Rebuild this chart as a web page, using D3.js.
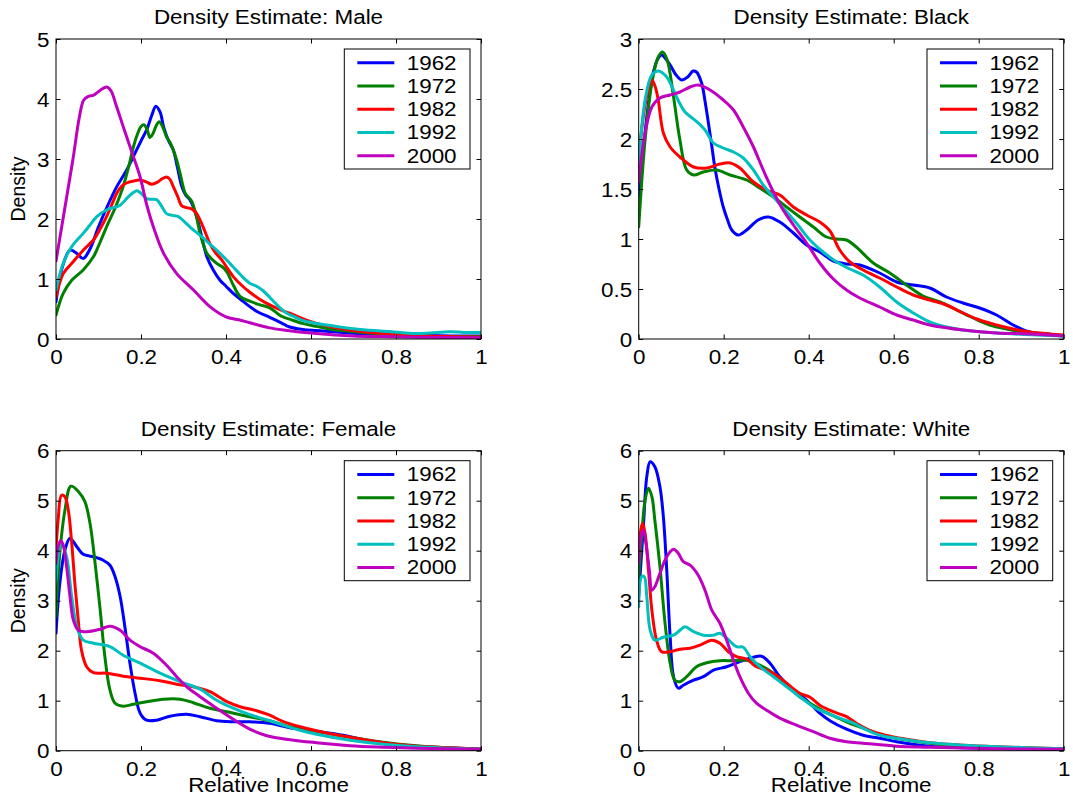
<!DOCTYPE html>
<html>
<head>
<meta charset="utf-8">
<script src="https://cdn.jsdelivr.net/npm/d3@7"></script>
<style>
  body { margin: 0; background: #fff; }
  text { font-family: "Liberation Sans", Arial, Helvetica, sans-serif; fill: #000; }
</style>
</head>
<body>
<svg id="chart"></svg>
<script>
// years + line colours (matlab default order)
const years = ["1962", "1972", "1982", "1992", "2000"];
const colors = ["#0000ff", "#008000", "#ff0000", "#00bfbf", "#bf00bf"];
const xTicks = [0, 0.2, 0.4, 0.6, 0.8, 1];

// Male  -- [relative income, density]
const male1962 = [[0,0.62],[0.015,1.2],[0.033,1.48],[0.05,1.42],[0.064,1.34],[0.08,1.5],[0.10,1.87],[0.12,2.2],[0.143,2.54],[0.165,2.8],[0.182,3.04],[0.2,3.3],[0.213,3.48],[0.225,3.72],[0.235,3.88],[0.245,3.78],[0.253,3.54],[0.265,3.3],[0.276,3.15],[0.286,2.85],[0.296,2.54],[0.305,2.4],[0.315,2.32],[0.331,2.04],[0.343,1.7],[0.355,1.37],[0.37,1.15],[0.386,0.98],[0.40,0.88],[0.417,0.76],[0.436,0.65],[0.456,0.54],[0.475,0.45],[0.503,0.36],[0.53,0.27],[0.55,0.2],[0.58,0.16],[0.613,0.14],[0.65,0.12],[0.69,0.1],[0.77,0.07],[0.85,0.06],[0.93,0.05],[1,0.05]];
const male1972 = [[0,0.4],[0.017,0.76],[0.037,0.98],[0.064,1.15],[0.088,1.37],[0.10,1.55],[0.119,1.87],[0.14,2.2],[0.158,2.54],[0.172,2.9],[0.182,3.2],[0.192,3.42],[0.2,3.54],[0.207,3.57],[0.214,3.5],[0.221,3.36],[0.228,3.42],[0.236,3.56],[0.243,3.62],[0.252,3.52],[0.26,3.37],[0.268,3.28],[0.276,3.15],[0.284,2.98],[0.292,2.76],[0.304,2.43],[0.312,2.36],[0.319,2.3],[0.33,2.05],[0.339,1.76],[0.355,1.43],[0.378,1.26],[0.392,1.2],[0.402,1.12],[0.417,0.9],[0.433,0.71],[0.456,0.63],[0.48,0.57],[0.503,0.52],[0.53,0.38],[0.55,0.33],[0.58,0.26],[0.613,0.21],[0.65,0.16],[0.69,0.13],[0.77,0.08],[0.85,0.05],[1,0.04]];
const male1982 = [[0,0.7],[0.017,1.09],[0.037,1.26],[0.064,1.48],[0.088,1.65],[0.105,1.85],[0.119,2.04],[0.132,2.25],[0.143,2.43],[0.155,2.55],[0.166,2.6],[0.18,2.63],[0.198,2.65],[0.212,2.62],[0.225,2.58],[0.24,2.62],[0.25,2.67],[0.26,2.7],[0.268,2.66],[0.276,2.54],[0.286,2.38],[0.296,2.22],[0.307,2.19],[0.319,2.17],[0.33,2.1],[0.339,1.98],[0.35,1.8],[0.362,1.59],[0.375,1.44],[0.39,1.32],[0.403,1.18],[0.417,1.04],[0.436,0.9],[0.456,0.78],[0.48,0.66],[0.503,0.57],[0.53,0.48],[0.55,0.43],[0.58,0.34],[0.613,0.26],[0.65,0.2],[0.69,0.15],[0.77,0.09],[0.85,0.06],[0.92,0.04],[1,0.03]];
const male1992 = [[0,0.82],[0.017,1.26],[0.037,1.54],[0.064,1.76],[0.08,1.9],[0.096,2.04],[0.119,2.15],[0.135,2.19],[0.151,2.23],[0.17,2.37],[0.182,2.44],[0.19,2.47],[0.2,2.43],[0.213,2.34],[0.225,2.33],[0.237,2.32],[0.248,2.22],[0.26,2.09],[0.274,2.06],[0.288,2.04],[0.3,1.97],[0.315,1.87],[0.33,1.78],[0.347,1.68],[0.362,1.58],[0.378,1.48],[0.394,1.37],[0.409,1.26],[0.425,1.14],[0.441,1.02],[0.456,0.93],[0.472,0.88],[0.488,0.8],[0.505,0.68],[0.527,0.52],[0.545,0.42],[0.558,0.38],[0.58,0.31],[0.613,0.26],[0.65,0.22],[0.69,0.18],[0.73,0.15],[0.77,0.13],[0.81,0.11],[0.848,0.09],[0.88,0.1],[0.926,0.12],[0.96,0.11],[1,0.11]];
const male2000 = [[0,1.3],[0.02,2.15],[0.04,3.0],[0.055,3.7],[0.065,3.98],[0.075,4.04],[0.09,4.07],[0.105,4.15],[0.12,4.2],[0.13,4.13],[0.14,3.93],[0.16,3.5],[0.182,3.04],[0.198,2.7],[0.213,2.25],[0.229,1.87],[0.253,1.43],[0.284,1.09],[0.323,0.82],[0.362,0.54],[0.40,0.37],[0.43,0.32],[0.456,0.27],[0.5,0.19],[0.535,0.15],[0.613,0.09],[0.7,0.05],[0.77,0.04],[0.85,0.03],[1,0.02]];

// Black
const black1962 = [[0,1.42],[0.01,1.85],[0.019,2.22],[0.034,2.66],[0.045,2.8],[0.054,2.84],[0.064,2.8],[0.074,2.74],[0.088,2.64],[0.101,2.59],[0.115,2.62],[0.128,2.68],[0.136,2.67],[0.148,2.56],[0.156,2.38],[0.164,2.16],[0.172,1.93],[0.179,1.72],[0.19,1.48],[0.199,1.32],[0.21,1.18],[0.219,1.09],[0.234,1.04],[0.254,1.09],[0.281,1.19],[0.305,1.22],[0.332,1.17],[0.364,1.06],[0.395,0.94],[0.426,0.87],[0.458,0.78],[0.489,0.75],[0.52,0.74],[0.567,0.66],[0.607,0.57],[0.646,0.54],[0.685,0.51],[0.724,0.42],[0.763,0.36],[0.802,0.31],[0.842,0.24],[0.881,0.14],[0.92,0.07],[0.959,0.05],[1,0.03]];
const black1972 = [[0,1.12],[0.015,1.99],[0.031,2.56],[0.046,2.82],[0.056,2.87],[0.067,2.79],[0.082,2.42],[0.097,1.99],[0.113,1.69],[0.129,1.64],[0.152,1.67],[0.183,1.69],[0.215,1.64],[0.254,1.59],[0.285,1.51],[0.317,1.42],[0.348,1.32],[0.379,1.22],[0.411,1.12],[0.442,1.02],[0.466,1.0],[0.489,0.99],[0.512,0.92],[0.552,0.76],[0.591,0.66],[0.63,0.54],[0.669,0.43],[0.709,0.37],[0.748,0.29],[0.787,0.21],[0.826,0.14],[0.865,0.1],[0.905,0.07],[0.959,0.05],[1,0.03]];
const black1982 = [[0,1.79],[0.01,2.2],[0.02,2.45],[0.031,2.59],[0.039,2.52],[0.046,2.39],[0.058,2.06],[0.074,1.92],[0.097,1.82],[0.129,1.72],[0.16,1.71],[0.191,1.75],[0.215,1.76],[0.238,1.71],[0.27,1.57],[0.301,1.49],[0.332,1.44],[0.364,1.32],[0.395,1.24],[0.426,1.17],[0.45,1.08],[0.473,0.89],[0.497,0.77],[0.528,0.69],[0.567,0.61],[0.607,0.52],[0.646,0.44],[0.685,0.39],[0.724,0.34],[0.763,0.26],[0.802,0.19],[0.842,0.14],[0.881,0.1],[0.92,0.07],[1,0.04]];
const black1992 = [[0,1.72],[0.015,2.39],[0.031,2.64],[0.046,2.68],[0.066,2.62],[0.089,2.42],[0.109,2.27],[0.132,2.19],[0.156,2.09],[0.176,1.96],[0.199,1.91],[0.223,1.87],[0.246,1.81],[0.27,1.69],[0.293,1.54],[0.317,1.42],[0.34,1.31],[0.371,1.16],[0.403,0.99],[0.434,0.87],[0.466,0.77],[0.497,0.7],[0.528,0.64],[0.567,0.52],[0.607,0.37],[0.646,0.26],[0.685,0.17],[0.724,0.12],[0.763,0.09],[0.842,0.06],[1,0.03]];
const black2000 = [[0,1.57],[0.015,2.06],[0.031,2.32],[0.05,2.41],[0.074,2.44],[0.097,2.47],[0.121,2.52],[0.14,2.54],[0.168,2.49],[0.199,2.39],[0.223,2.29],[0.246,2.12],[0.27,1.92],[0.293,1.69],[0.317,1.47],[0.34,1.29],[0.364,1.14],[0.395,0.96],[0.426,0.76],[0.458,0.6],[0.489,0.49],[0.52,0.41],[0.567,0.32],[0.607,0.24],[0.646,0.19],[0.685,0.14],[0.763,0.09],[0.842,0.06],[0.92,0.05],[1,0.03]];

// Female
const female1962 = [[0,2.35],[0.009,3.35],[0.021,4.01],[0.033,4.25],[0.049,4.08],[0.064,3.93],[0.088,3.88],[0.111,3.81],[0.127,3.71],[0.139,3.48],[0.151,3.08],[0.162,2.48],[0.174,1.75],[0.186,1.15],[0.198,0.75],[0.213,0.61],[0.237,0.61],[0.268,0.69],[0.307,0.73],[0.339,0.68],[0.378,0.6],[0.417,0.58],[0.456,0.58],[0.503,0.55],[0.55,0.46],[0.613,0.39],[0.676,0.31],[0.731,0.21],[0.809,0.11],[0.887,0.07],[1,0.03]];
const female1972 = [[0,2.68],[0.009,3.95],[0.021,4.81],[0.035,5.29],[0.053,5.18],[0.068,4.98],[0.08,4.55],[0.092,3.75],[0.104,2.81],[0.115,1.88],[0.127,1.21],[0.139,0.95],[0.158,0.89],[0.182,0.93],[0.213,0.98],[0.253,1.03],[0.292,1.03],[0.323,0.96],[0.362,0.85],[0.402,0.78],[0.449,0.69],[0.503,0.6],[0.55,0.48],[0.613,0.39],[0.676,0.29],[0.77,0.17],[0.848,0.1],[0.92,0.06],[1,0.03]];
const female1982 = [[0,4.01],[0.005,4.61],[0.013,5.11],[0.021,5.08],[0.029,4.81],[0.037,4.15],[0.045,3.28],[0.053,2.55],[0.06,2.01],[0.072,1.68],[0.088,1.56],[0.119,1.55],[0.158,1.49],[0.198,1.45],[0.245,1.4],[0.284,1.33],[0.323,1.28],[0.362,1.18],[0.402,0.98],[0.433,0.88],[0.472,0.8],[0.503,0.71],[0.535,0.58],[0.574,0.48],[0.613,0.4],[0.652,0.33],[0.692,0.27],[0.77,0.16],[0.848,0.09],[0.927,0.06],[1,0.03]];
const female1992 = [[0,3.41],[0.005,3.88],[0.013,4.15],[0.025,3.88],[0.037,3.08],[0.049,2.48],[0.064,2.21],[0.088,2.15],[0.127,2.08],[0.158,1.91],[0.198,1.75],[0.245,1.55],[0.292,1.38],[0.339,1.23],[0.378,1.01],[0.417,0.85],[0.456,0.72],[0.503,0.6],[0.535,0.51],[0.574,0.41],[0.613,0.33],[0.692,0.21],[0.77,0.13],[0.848,0.08],[1,0.03]];
const female2000 = [[0,3.75],[0.005,4.08],[0.011,4.2],[0.017,4.11],[0.025,3.68],[0.033,3.08],[0.041,2.61],[0.053,2.41],[0.072,2.38],[0.104,2.43],[0.127,2.49],[0.151,2.41],[0.174,2.21],[0.198,2.08],[0.229,1.95],[0.26,1.71],[0.284,1.48],[0.307,1.28],[0.339,1.08],[0.378,0.85],[0.417,0.63],[0.456,0.43],[0.496,0.3],[0.55,0.22],[0.613,0.16],[0.692,0.1],[0.77,0.07],[0.848,0.05],[1,0.03]];

// White
const white1962 = [[0,3.08],[0.011,4.48],[0.019,5.48],[0.027,5.78],[0.038,5.68],[0.05,5.28],[0.058,4.68],[0.066,3.61],[0.074,2.28],[0.082,1.48],[0.093,1.25],[0.105,1.31],[0.129,1.41],[0.152,1.48],[0.176,1.61],[0.207,1.68],[0.238,1.78],[0.27,1.87],[0.289,1.89],[0.309,1.75],[0.332,1.48],[0.364,1.21],[0.395,1.01],[0.426,0.75],[0.45,0.6],[0.489,0.43],[0.528,0.31],[0.567,0.25],[0.607,0.18],[0.685,0.09],[0.763,0.06],[1,0.03]];
const white1972 = [[0,3.41],[0.007,4.28],[0.015,5.01],[0.023,5.25],[0.031,5.08],[0.038,4.61],[0.05,3.68],[0.062,2.55],[0.074,1.75],[0.085,1.41],[0.097,1.38],[0.113,1.48],[0.136,1.68],[0.16,1.76],[0.191,1.8],[0.223,1.8],[0.254,1.81],[0.285,1.71],[0.317,1.55],[0.348,1.31],[0.379,1.08],[0.411,0.91],[0.442,0.76],[0.473,0.64],[0.505,0.52],[0.528,0.45],[0.567,0.33],[0.607,0.25],[0.685,0.15],[0.763,0.09],[0.842,0.07],[1,0.03]];
const white1982 = [[0,3.81],[0.005,4.41],[0.009,4.55],[0.015,4.35],[0.023,3.61],[0.031,2.81],[0.042,2.21],[0.054,1.98],[0.074,1.98],[0.097,2.03],[0.121,2.05],[0.144,2.11],[0.172,2.21],[0.191,2.15],[0.211,1.98],[0.23,1.88],[0.254,1.83],[0.277,1.68],[0.301,1.61],[0.324,1.51],[0.348,1.35],[0.379,1.15],[0.403,1.07],[0.426,0.91],[0.458,0.78],[0.489,0.68],[0.512,0.55],[0.552,0.38],[0.591,0.29],[0.646,0.21],[0.685,0.16],[0.763,0.11],[0.842,0.08],[1,0.04]];
const white1992 = [[0,2.88],[0.007,3.48],[0.013,3.48],[0.019,3.08],[0.027,2.41],[0.038,2.21],[0.058,2.27],[0.082,2.31],[0.097,2.41],[0.109,2.48],[0.129,2.38],[0.152,2.31],[0.176,2.31],[0.191,2.35],[0.207,2.25],[0.23,2.08],[0.246,2.07],[0.262,1.88],[0.285,1.68],[0.317,1.48],[0.348,1.28],[0.379,1.08],[0.411,0.88],[0.442,0.75],[0.473,0.65],[0.505,0.55],[0.528,0.45],[0.567,0.31],[0.607,0.25],[0.685,0.16],[0.763,0.11],[0.842,0.08],[1,0.04]];
const white2000 = [[0,3.75],[0.005,4.28],[0.011,4.41],[0.017,4.15],[0.025,3.61],[0.031,3.21],[0.038,3.28],[0.05,3.55],[0.062,3.81],[0.074,3.98],[0.082,4.03],[0.093,3.95],[0.105,3.78],[0.121,3.71],[0.14,3.51],[0.156,3.21],[0.172,2.81],[0.191,2.55],[0.207,2.21],[0.223,1.81],[0.238,1.48],[0.258,1.15],[0.277,0.95],[0.301,0.81],[0.332,0.65],[0.371,0.51],[0.411,0.38],[0.45,0.25],[0.489,0.18],[0.528,0.15],[0.607,0.09],[0.685,0.07],[0.842,0.04],[1,0.03]];

const panels = [
  { title: "Density Estimate: Male",   yMax: 5, yStep: 1,   col: 0, row: 0, series: [male1962, male1972, male1982, male1992, male2000] },
  { title: "Density Estimate: Black",  yMax: 3, yStep: 0.5, col: 1, row: 0, series: [black1962, black1972, black1982, black1992, black2000] },
  { title: "Density Estimate: Female", yMax: 6, yStep: 1,   col: 0, row: 1, series: [female1962, female1972, female1982, female1992, female2000] },
  { title: "Density Estimate: White",  yMax: 6, yStep: 1,   col: 1, row: 1, series: [white1962, white1972, white1982, white1992, white2000] }
];

const width = 1073, height = 807;
const colLeft = [56, 638.7], rowTop = [39, 450.7];
const pw = 425, ph = 300;
const SX = 1.15;          // picture is a bit wider than tall
const tickFont = 19.5, labelFont = 19.5;

const svg = d3.select("#chart").attr("width", width).attr("height", height);

const line = d3.line().curve(d3.curveCatmullRom.alpha(0.5));

panels.forEach((p, pi) => {
  const left = colLeft[p.col], top = rowTop[p.row];
  const g = svg.append("g").attr("transform", `translate(${left},${top})`);

  const x = d3.scaleLinear().domain([0, 1]).range([0, pw]);
  const y = d3.scaleLinear().domain([0, p.yMax]).range([ph, 0]);
  const yTicks = d3.range(0, p.yMax + 1e-9, p.yStep);

  g.append("clipPath").attr("id", "clip" + pi)
    .append("rect").attr("width", pw).attr("height", ph);

  // curves
  const lines = g.append("g").attr("clip-path", `url(#clip${pi})`);
  p.series.forEach((s, i) => {
    lines.append("path")
      .attr("d", line.x(d => x(d[0])).y(d => y(d[1]))(s))
      .attr("fill", "none")
      .attr("stroke", colors[i])
      .attr("stroke-width", 3)
      .attr("stroke-linejoin", "round")
      .attr("stroke-linecap", "round");
  });

  // axes, ticks pointing inwards on all four sides
  const bottom = g.append("g").attr("transform", `translate(0,${ph})`)
    .call(d3.axisBottom(x).tickValues(xTicks).tickFormat(d => String(d))
      .tickSizeInner(-4.5).tickSizeOuter(0).tickPadding(11));
  const leftAx = g.append("g")
    .call(d3.axisLeft(y).tickValues(yTicks).tickFormat(d => String(d))
      .tickSizeInner(-4.5).tickSizeOuter(0).tickPadding(7));
  g.append("g").call(d3.axisTop(x).tickValues(xTicks).tickFormat("").tickSizeInner(-4.5).tickSizeOuter(0));
  g.append("g").attr("transform", `translate(${pw},0)`)
    .call(d3.axisRight(y).tickValues(yTicks).tickFormat("").tickSizeInner(-4.5).tickSizeOuter(0));

  g.selectAll(".domain").remove();
  g.selectAll(".tick line").attr("stroke", "#000").attr("stroke-width", 1);
  [bottom, leftAx].forEach(a => a.attr("font-family", null).attr("font-size", null));
  bottom.selectAll("text").style("font-size", tickFont + "px").attr("transform", `scale(${SX},1)`);
  leftAx.selectAll("text").style("font-size", tickFont + "px")
    .attr("x", -6.5 / SX).attr("dy", "0.36em").attr("transform", `scale(${SX},1)`);

  g.append("rect").attr("width", pw).attr("height", ph)
    .attr("fill", "none").attr("stroke", "#000").attr("stroke-width", 1);

  // title
  g.append("text")
    .attr("transform", `translate(${pw / 2},-15) scale(${SX},1)`)
    .attr("text-anchor", "middle").style("font-size", labelFont + "px")
    .text(p.title);

  if (p.row === 1) {
    g.append("text")
      .attr("transform", `translate(${pw / 2},${ph + 41}) scale(${SX},1)`)
      .attr("text-anchor", "middle").style("font-size", labelFont + "px")
      .text("Relative Income");
  }
  if (p.col === 0) {
    g.append("text")
      .attr("transform", `translate(${25 - left},${ph / 2}) rotate(-90)`)
      .attr("text-anchor", "middle").style("font-size", labelFont + "px")
      .text("Density");
  }

  // legend box
  const lw = 125.7, lh = 120;
  const leg = g.append("g").attr("transform", `translate(${pw - 11 - lw},10)`);
  leg.append("rect").attr("width", lw).attr("height", lh)
    .attr("fill", "#fff").attr("stroke", "#000").attr("stroke-width", 1);
  years.forEach((yr, i) => {
    const cy = 13.7 + i * 23.25;
    leg.append("line").attr("x1", 13).attr("x2", 50).attr("y1", cy).attr("y2", cy)
      .attr("stroke", colors[i]).attr("stroke-width", 3);
    leg.append("text")
      .attr("transform", `translate(62.4,${cy + 7}) scale(${SX},1)`)
      .style("font-size", labelFont + "px")
      .text(yr);
  });
});
</script>
</body>
</html>
